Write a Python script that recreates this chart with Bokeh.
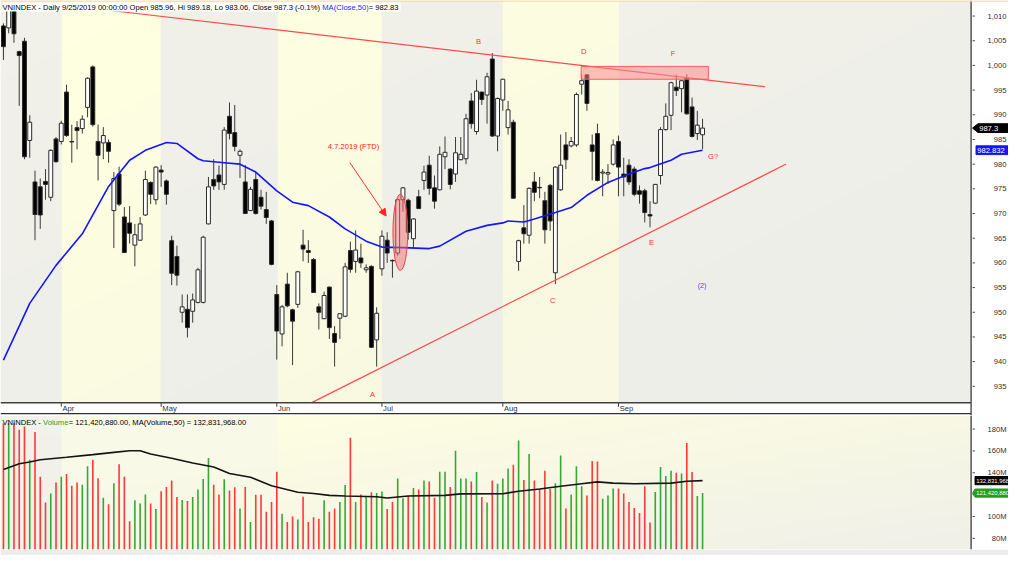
import numpy as np
from bokeh.plotting import figure
from bokeh.layouts import column
from bokeh.models import ColumnDataSource, Range1d, Label, Arrow, NormalHead
from bokeh.core.properties import value
from bokeh.embed import file_html
from bokeh.resources import INLINE

# ---------------- data (bar index 0 = 2019-03-15 ... 133 = 2019-09-25) -------------
OPEN = [1008.0, 1007.6, 1011.2, 1002.8, 1004.9, 984.8, 976.4, 975.4, 976.5, 973.3,
        985.1, 984.6, 994.6, 984.6, 987.4, 987.2, 991.5, 999.7, 984.6, 984.3,
        984.4, 970.6, 978.0, 969.3, 968.1, 963.6, 964.6, 969.7, 976.3, 972.8,
        978.8, 976.6, 964.5, 961.3, 950.0, 950.6, 950.2, 952.0, 952.0, 967.9,
        976.9, 977.8, 975.9, 989.7, 986.4, 981.8, 976.4, 970.6, 976.9, 973.3,
        970.8, 968.5, 953.6, 945.6, 955.7, 950.5, 951.6, 963.6, 962.5, 960.7,
        951.1, 948.7, 955.1, 945.7, 948.8, 949.2, 962.5, 960.3, 961.0, 958.6,
        959.3, 944.4, 958.8, 964.6, 960.5, 962.0, 972.8, 972.7, 964.9, 973.4,
        976.7, 979.8, 975.2, 974.8, 981.5, 979.0, 978.0, 980.9, 981.1, 992.8,
        986.6, 994.6, 994.0, 1001.3, 985.7, 993.0, 987.4, 988.5, 960.3, 967.1,
        965.6, 976.4, 975.3, 972.6, 975.7, 958.0, 974.8, 983.9, 983.7, 983.9,
        996.2, 998.1, 983.9, 986.2, 978.2, 978.0, 980.0, 984.6, 978.0, 979.8,
        979.0, 974.6, 974.6, 969.8, 972.1, 977.7, 987.0, 989.9, 995.6, 995.3,
        997.4, 991.6, 986.2, 985.96]
HIGH = [1008.5, 1011.5, 1012.0, 1003.0, 1005.6, 989.9, 978.7, 977.1, 979.0, 983.0,
        985.5, 988.8, 996.1, 988.0, 988.7, 989.9, 997.6, 1000.0, 988.0, 987.5,
        985.0, 978.4, 979.5, 971.3, 971.5, 967.9, 969.3, 978.7, 976.5, 979.6,
        979.8, 976.9, 965.5, 963.5, 953.6, 953.6, 953.8, 959.0, 965.5, 977.4,
        981.0, 979.7, 987.5, 992.5, 992.0, 983.0, 979.8, 975.4, 978.4, 974.8,
        974.4, 968.7, 955.5, 951.5, 958.0, 950.7, 958.4, 966.7, 964.6, 961.0,
        951.8, 954.2, 955.2, 947.2, 949.8, 960.0, 964.3, 966.6, 963.9, 959.7,
        959.5, 951.0, 966.6, 966.2, 960.7, 973.0, 975.4, 973.0, 969.0, 974.8,
        979.7, 981.7, 977.7, 983.6, 985.6, 979.2, 985.5, 985.5, 990.2, 994.4,
        997.1, 994.7, 998.5, 1002.5, 993.5, 997.3, 992.8, 989.0, 964.7, 971.7,
        975.3, 978.4, 977.4, 974.4, 976.0, 979.6, 986.0, 986.5, 985.5, 994.5,
        998.2, 998.2, 986.0, 988.2, 979.0, 980.0, 985.0, 985.8, 981.3, 981.0,
        979.5, 975.7, 975.0, 972.5, 976.0, 987.5, 992.3, 996.7, 998.1, 997.0,
        998.2, 993.5, 990.8, 989.18]
LOW = [1001.1, 1006.5, 1004.6, 991.8, 981.0, 981.3, 964.6, 966.9, 972.8, 972.5,
       980.3, 984.0, 985.5, 980.3, 983.0, 986.2, 989.5, 987.6, 976.7, 981.0,
       980.3, 963.0, 971.5, 962.0, 963.9, 959.3, 964.5, 969.5, 971.9, 971.8,
       975.4, 971.8, 955.5, 955.4, 947.9, 944.9, 947.9, 951.8, 951.8, 967.8,
       974.8, 974.8, 974.8, 985.0, 982.6, 977.2, 969.9, 970.5, 969.8, 970.8,
       967.9, 959.5, 940.4, 943.1, 951.0, 939.3, 950.9, 960.3, 960.0, 953.9,
       946.5, 948.6, 944.6, 939.0, 944.6, 949.0, 958.0, 958.0, 959.0, 958.0,
       942.8, 939.0, 957.4, 960.0, 957.0, 961.5, 970.4, 964.7, 963.0, 971.0,
       974.8, 973.8, 971.0, 974.7, 979.0, 974.9, 976.4, 980.8, 980.0, 987.2,
       986.0, 992.0, 988.2, 985.5, 982.6, 990.8, 986.0, 973.0, 958.4, 963.9,
       963.9, 972.5, 973.1, 963.9, 966.5, 955.7, 974.6, 979.0, 983.4, 983.5,
       994.1, 990.8, 976.7, 976.5, 973.5, 976.0, 979.7, 973.5, 973.5, 975.8,
       973.5, 972.0, 968.2, 967.2, 972.0, 975.9, 986.8, 986.9, 993.8, 990.5,
       990.0, 985.4, 984.9, 983.06]
CLOSE = [1003.8, 1011.2, 1006.4, 1002.0, 981.5, 988.5, 969.8, 969.7, 975.9, 982.8,
         980.5, 988.3, 985.8, 984.5, 986.8, 989.1, 997.4, 988.0, 981.8, 985.8,
         982.6, 977.1, 971.9, 962.1, 966.0, 965.7, 967.9, 976.9, 973.9, 979.4,
         978.4, 973.9, 957.9, 957.5, 951.1, 946.9, 952.5, 958.6, 965.2, 975.4,
         975.6, 976.4, 986.9, 986.2, 983.6, 982.6, 970.0, 974.9, 970.0, 971.5,
         969.2, 959.7, 946.2, 951.1, 951.3, 948.2, 958.2, 962.8, 962.1, 954.0,
         950.0, 953.4, 946.9, 943.9, 949.7, 959.2, 958.7, 962.6, 960.0, 959.0,
         942.9, 949.8, 965.4, 962.0, 960.4, 972.8, 975.2, 966.2, 968.9, 971.0,
         978.4, 975.1, 972.5, 982.0, 982.4, 975.9, 982.3, 982.0, 989.2, 988.2,
         994.8, 993.1, 997.7, 985.7, 993.3, 997.2, 991.0, 973.1, 964.5, 965.9,
         975.1, 974.3, 975.2, 966.7, 968.5, 979.4, 979.8, 980.9, 984.6, 994.1,
         996.9, 992.3, 982.6, 976.7, 978.4, 978.3, 983.9, 979.4, 977.4, 976.4,
         973.9, 973.9, 970.2, 969.5, 975.9, 987.0, 989.7, 996.5, 994.9, 996.9,
         990.2, 985.6, 987.9, 987.3]
VOLUME_M = [185.3, 185.3, 185.3, 179.4, 182.4, 151.9, 177.3, 136.4, 112.7, 121.0,
            131.1, 136.4, 138.8, 128.2, 131.1, 129.0, 145.9, 151.9, 135.0, 117.2,
            111.3, 130.5, 147.7, 136.4, 95.6, 114.8, 111.9, 120.2, 111.9, 106.8,
            123.1, 127.0, 132.9, 117.8, 115.1, 114.2, 117.8, 124.6, 134.4, 153.6,
            129.0, 120.2, 134.1, 123.7, 126.7, 107.4, 127.0, 95.0, 119.9, 119.9,
            104.4, 113.3, 140.9, 102.4, 95.0, 100.0, 97.3, 118.1, 95.0, 99.4,
            97.9, 114.8, 104.4, 107.4, 113.3, 128.7, 172.0, 113.3, 120.2, 118.7,
            122.2, 121.6, 122.8, 106.8, 113.3, 134.7, 116.6, 118.7, 126.1, 124.6,
            132.9, 132.0, 117.2, 140.9, 140.9, 127.0, 160.2, 134.7, 134.7, 132.0,
            140.6, 117.8, 112.7, 132.9, 129.9, 134.7,
            143.9, 147.4, 169.6, 133.5, 157.2, 132.9, 125.2, 141.8, 125.2, 130.5,
            155.7, 107.4, 120.2, 145.9, 127.6, 119.3, 150.7, 150.4, 116.3, 119.3,
            125.5, 125.5, 121.0, 113.3, 107.7, 103.3, 127.6, 94.4, 122.5, 145.3,
            137.0, 141.8, 140.0, 139.4, 167.2, 140.6, 118.7, 121.42]

# 50-day moving average of close
MA_BAR = [0, 5, 10, 15, 20, 24, 27, 31, 33, 37, 38, 42, 45, 48, 52, 55, 58, 62, 65, 69,
          72, 76, 81, 83, 88, 92, 95, 96, 99, 101, 105, 108, 111, 115, 119, 122, 123,
          127, 129, 133]
MA_CLOSE = [940.3, 951.8, 959.5, 965.9, 975.5, 980.8, 982.8, 984.4, 984.2, 981.1,
            980.7, 980.3, 980.0, 978.4, 974.6, 972.3, 971.6, 969.3, 966.9, 964.4,
            963.2, 963.1, 962.9, 963.4, 966.4, 967.6, 968.1, 968.5, 968.3, 968.9,
            970.2, 971.2, 973.7, 976.3, 978.0, 979.1, 979.3, 980.8, 982.0, 982.83]
MA_LAST_TAG = "982.832"
# 50-day moving average of volume (millions)
VMA_BAR = [0, 3, 5, 7, 12, 17, 21, 24, 26, 28, 32, 36, 40, 43, 47, 51, 56, 59, 62, 65,
           71, 73, 77, 84, 87, 95, 98, 102, 106, 110, 113, 116, 120, 127, 130, 133]
VMA_VOL = [143.0, 148.3, 149.8, 151.9, 154.2, 156.6, 158.7, 160.2, 160.2, 157.2,
           153.3, 148.9, 145.3, 139.4, 135.9, 128.2, 122.2, 121.0, 119.3, 118.7,
           118.1, 116.9, 118.7, 119.3, 120.7, 120.8, 123.1, 125.2, 127.6, 130.0,
           131.7, 130.5, 129.9, 130.5, 132.3, 132.83]
VOL_LAST_TAG = "121,420,880"
VMA_LAST_TAG = "132,831,968"

MONTH_START = [11, 30, 52, 72, 95, 117]
MONTH_LABELS = ["Apr", "May", "Jun", "Jul", "Aug", "Sep"]
PRICE_TICKS = list(range(935, 1011, 5))
VOL_TICKS = [80, 100, 120, 140, 160, 180]
VOL_TICK_LABELS = ["80M", "100M", "120M", "140M", "160M", "180M"]

# drawn annotations (bar index, price)
RESIST_X = [20.0, 144.9]
RESIST_Y = [1011.18, 995.67]
SUPPORT_X = [58.56, 148.9]
SUPPORT_Y = [931.65, 980.02]
ZONE = dict(left=109.9, right=134.1, bottom=997.2, top=999.8)
FTD_ELLIPSE = dict(x=75.5, y=966.2, w=2.8, h=15.4)
FTD_ARROW = dict(x0=65.9, y0=980.3, x1=72.8, y1=969.5)
FTD_TEXT = dict(x=66.6, y=983.6, text="4.7.2019 (FTD)")
WAVE_LABELS = ["A", "B", "C", "D", "E", "F", "G?"]
WAVE_X = [70.2, 90.4, 104.5, 110.4, 123.3, 127.4, 135.0]
WAVE_Y = [933.4, 1004.9, 952.3, 1002.9, 964.1, 1002.5, 981.5]
COUNT_LABEL = dict(x=132.9, y=955.4, text="(2)")

PRICE_HEADER = [("VNINDEX - Daily 9/25/2019 00:00:00 Open 985.96, Hi 989.18, Lo 983.06, "
                 "Close 987.3 (-0.1%) ", "black"),
                ("MA(Close,50)", "#2828FF"), (" = 982.83", "black")]
VOL_HEADER = [("VNINDEX - ", "black"), ("Volume", "#2BA02B"),
              (" = 121,420,880.00, MA(Volume,50) = 132,831,968.00", "black")]

# ---------------- geometry (derived from the reference layout) -------------
BAR_PX = 5.34            # px per bar in the reference
PRICE_PX = 5.08          # px per index point in the reference
VOL_PX = 1.125           # px per million in the reference
XL = -3.0 / BAR_PX       # left edge
XAX = XL + 986 / BAR_PX  # right axis line
XFULL = XL + 1024 / BAR_PX
PTOP, PBOT = 1013.15, 931.65
PSTRIP = PBOT - 13 / PRICE_PX
PLINE2 = PBOT - 11 / PRICE_PX
VTOP, VBOT = 192.4, 69.8
FONT_NAME = "Liberation Sans"
FONT = value(FONT_NAME)
FS = "7.6px"
FS_PX = 7.6

ARIAL = {' ': .278, ',': .278, '.': .278, ':': .278, '/': .278, '-': .333, '(': .333,
         ')': .333, '%': .889, '=': .584, 'V': .667, 'N': .722, 'I': .278, 'D': .722,
         'E': .667, 'X': .667, 'O': .778, 'H': .722, 'L': .556, 'C': .722, 'M': .833,
         'A': .667, 'a': .556, 'i': .222, 'l': .222, 'y': .5, 'p': .556, 'e': .556,
         'n': .556, 'o': .556, 's': .5, 'u': .556, 'm': .833}


def text_width(s, size=FS_PX):
    return sum(ARIAL.get(ch, .556) for ch in s) * size


N = len(OPEN)
idx = list(range(N))
up = [c >= o for o, c in zip(OPEN, CLOSE)]


def pack(rgb):
    h, w, _ = rgb.shape
    img = np.empty((h, w), dtype=np.uint32)
    view = img.view(dtype=np.uint8).reshape((h, w, 4))
    view[:, :, 0] = rgb[:, :, 0]
    view[:, :, 1] = rgb[:, :, 1]
    view[:, :, 2] = rgb[:, :, 2]
    view[:, :, 3] = 255
    return np.ascontiguousarray(img[::-1])


def background(ncols, nrows, spans, bright0, bright1):
    """spans: list of (start, end, colour_at_top_left, colour_at_bottom_right)."""
    xs = XL + (np.arange(ncols) + 0.5) * (XAX - XL) / ncols
    u = (xs - XL) / (XAX - XL)
    v = np.linspace(0, 1, nrows)
    t = np.clip(0.6 * u[None, :] + 0.5 * v[:, None] - 0.1, 0, 1)[:, :, None]
    rgb = (1 - t) * np.array(bright0) + t * np.array(bright1)
    for a, b, c0, c1 in spans:
        m = (xs >= a) & (xs < b)
        band = (1 - t) * np.array(c0) + t * np.array(c1)
        rgb[:, m, :] = band[:, m, :]
    return pack(rgb.astype(np.uint8))


def right_axis(fig, y0, y1, ticks, labels):
    fig.quad(left=[XAX], right=[XFULL], bottom=[y0], top=[y1], fill_color="white",
             line_color=None)
    fig.segment(x0=[XAX], y0=[y0], x1=[XAX], y1=[y1], line_color="#3c3c3c", line_width=1.3)
    fig.segment(x0=[XAX + 1.5 / BAR_PX] * len(ticks), y0=ticks,
                x1=[XAX + 4 / BAR_PX] * len(ticks), y1=ticks, line_color="#505050",
                line_width=1)
    fig.text(x=[XL + 1022 / BAR_PX] * len(ticks), y=ticks, text=labels,
             text_color="#303030", text_font=FONT, text_font_size=FS,
             text_align="right", text_baseline="middle")


def tag(fig, y, half_h, color, txt, arrow, size=FS_PX, box_left=993):
    tip = XL + 987.5 / BAR_PX
    left = XL + box_left / BAR_PX
    if arrow:
        xs = [tip, left, XFULL, XFULL, left]
        ys = [y, y + half_h, y + half_h, y - half_h, y - half_h]
    else:
        xs = [left, XFULL, XFULL, left]
        ys = [y + half_h, y + half_h, y - half_h, y - half_h]
    fig.patch(xs, ys, fill_color=color, line_color=color)
    fig.text(x=[left + 1.2 / BAR_PX], y=[y], text=[txt], text_color="white", text_font=FONT,
             text_font_size=f"{size}px", text_baseline="middle", text_align="left")


# ---------------- price panel -------------
p = figure(frame_width=1008, frame_height=415, x_range=Range1d(XL, XFULL),
           y_range=Range1d(PSTRIP, PTOP), output_backend="svg", toolbar_location=None,
           x_axis_location=None, y_axis_location=None, min_border=0)
p.background_fill_color = "white"
p.border_fill_color = "white"
p.outline_line_color = None
p.grid.visible = False

GRAY0, GRAY1 = [241, 241, 234], [237, 237, 233]
bg = background(986, 104,
                [(XL, 11, GRAY0, GRAY1), (30, 52, GRAY0, GRAY1), (72, 95, GRAY0, GRAY1),
                 (117, XAX, [243, 243, 233], GRAY1)],
                [255, 255, 225], [246, 246, 228])
p.image_rgba(image=[bg], x=XL, y=PBOT, dw=XAX - XL, dh=PTOP - PBOT)

src = ColumnDataSource(dict(
    x=idx, h=HIGH, l=LOW,
    top=[max(o, c) for o, c in zip(OPEN, CLOSE)],
    bottom=[min(o, c) for o, c in zip(OPEN, CLOSE)],
    fill=["white" if u else "black" for u in up]))

p.segment(x0="x", y0="h", x1="x", y1="l", line_color="#3a3a3a", line_width=1, source=src)
p.vbar(x="x", top="top", bottom="bottom", width=0.74, fill_color="fill",
       line_color="#2a2a2a", line_width=1, source=src)

p.line(MA_BAR, MA_CLOSE, line_color="#1414FF", line_width=1.6)

p.line(RESIST_X, RESIST_Y, line_color="#FF4A4A", line_width=1.2)
p.line(SUPPORT_X, SUPPORT_Y, line_color="#FF4A4A", line_width=1.2)
p.quad(left=[ZONE["left"]], right=[ZONE["right"]], bottom=[ZONE["bottom"]], top=[ZONE["top"]],
       fill_color="#FF8C8C", fill_alpha=0.55, line_color="#FF5A5A", line_width=1)
p.ellipse(x=[FTD_ELLIPSE["x"]], y=[FTD_ELLIPSE["y"]], width=FTD_ELLIPSE["w"],
          height=FTD_ELLIPSE["h"], fill_color="#F07070", fill_alpha=0.5,
          line_color="#F04040", line_width=1)
p.add_layout(Arrow(end=NormalHead(size=7, fill_color="#FF2020", line_color="#FF2020"),
                   x_start=FTD_ARROW["x0"], y_start=FTD_ARROW["y0"],
                   x_end=FTD_ARROW["x1"], y_end=FTD_ARROW["y1"],
                   line_color="#FF3030", line_width=1))
p.text(x=[FTD_TEXT["x"]], y=[FTD_TEXT["y"]], text=[FTD_TEXT["text"]], text_color="#FF2020",
       text_font=FONT, text_font_size=FS, text_align="center", text_baseline="middle")
p.text(x=WAVE_X, y=WAVE_Y, text=WAVE_LABELS, text_color="#FF3030", text_font=FONT,
       text_font_size=FS, text_align="center", text_baseline="middle")
p.text(x=[COUNT_LABEL["x"]], y=[COUNT_LABEL["y"]], text=[COUNT_LABEL["text"]],
       text_color="#4646FF", text_font=FONT, text_font_size="7px",
       text_align="center", text_baseline="middle")

# month strip under the price pane
p.quad(left=[XL], right=[XFULL], bottom=[PSTRIP], top=[PBOT], fill_color="white",
       line_color=None)
p.segment(x0=[XL], y0=[PBOT], x1=[XAX], y1=[PBOT], line_color="#404040", line_width=1.5)
p.segment(x0=[XL], y0=[PLINE2], x1=[XFULL], y1=[PLINE2], line_color="#303030",
          line_width=1.2)
p.segment(x0=MONTH_START, y0=[PBOT] * len(MONTH_START), x1=MONTH_START,
          y1=[PBOT - 4 / PRICE_PX] * len(MONTH_START), line_color="#404040", line_width=1)
p.text(x=[m + 1.2 / BAR_PX for m in MONTH_START], y=[PBOT - 5.3 / PRICE_PX] * len(MONTH_START),
       text=MONTH_LABELS, text_color="#303030", text_font=FONT, text_font_size=FS,
       text_align="left", text_baseline="middle")

right_axis(p, PSTRIP, PTOP, PRICE_TICKS, [f"{t:,}" for t in PRICE_TICKS])
tag(p, CLOSE[-1], 4.5 / PRICE_PX, "black", f"{CLOSE[-1]}", True)
tag(p, MA_CLOSE[-1], 4.5 / PRICE_PX, "#1414FF", MA_LAST_TAG, False, box_left=991)

# thin tan border along the top of the pane
p.segment(x0=[XL], y0=[PTOP - 0.6 / PRICE_PX], x1=[XFULL], y1=[PTOP - 0.6 / PRICE_PX],
          line_color="#F2DDA8", line_width=1.5)

# header line
off = 2.0
for txt, col in PRICE_HEADER:
    p.add_layout(Label(x=XL, y=PTOP, x_offset=off, y_offset=-2, text=txt,
                       text_color=col, text_font=FONT_NAME, text_font_size=FS,
                       text_baseline="top", background_fill_color="white"))
    off += text_width(txt)

# ---------------- volume panel -------------
v = figure(frame_width=1008, frame_height=134, x_range=p.x_range, y_range=Range1d(VBOT, VTOP),
           output_backend="svg", toolbar_location=None, x_axis_location=None,
           y_axis_location=None, min_border=0, min_border_bottom=6)
v.background_fill_color = "white"
v.border_fill_color = "#EDEDED"
v.outline_line_color = None
v.grid.visible = False

vbg = background(986, 34,
                 [(XL, 11, [242, 242, 234], [240, 240, 234]),
                  (11, 52, [250, 250, 231], [246, 246, 232])],
                 [255, 255, 225], [240, 240, 233])
v.image_rgba(image=[vbg], x=XL, y=VBOT, dw=XAX - XL, dh=VTOP - VBOT)

vsrc = ColumnDataSource(dict(x=idx, base=[VBOT] * N, vol=VOLUME_M,
                             col=["#36A836" if u else "#FF3838" for u in up]))
v.segment(x0="x", y0="base", x1="x", y1="vol", line_color="col", line_width=1.6, source=vsrc)
v.line(VMA_BAR, VMA_VOL, line_color="#141414", line_width=1.6)

right_axis(v, VBOT, VTOP, VOL_TICKS, VOL_TICK_LABELS)
tag(v, VMA_VOL[-1], 4.2 / VOL_PX, "black", VMA_LAST_TAG, False, size=5.9, box_left=990)
tag(v, VOLUME_M[-1], 4.2 / VOL_PX, "#22A022", VOL_LAST_TAG, True, size=5.9, box_left=990)

off = 2.0
for txt, col in VOL_HEADER:
    v.add_layout(Label(x=XL, y=VTOP, x_offset=off, y_offset=-2, text=txt,
                       text_color=col, text_font=FONT_NAME, text_font_size=FS,
                       text_baseline="top"))
    off += text_width(txt)

layout = column(p, v, spacing=0)
open("out.html", "w").write(file_html(layout, INLINE))
